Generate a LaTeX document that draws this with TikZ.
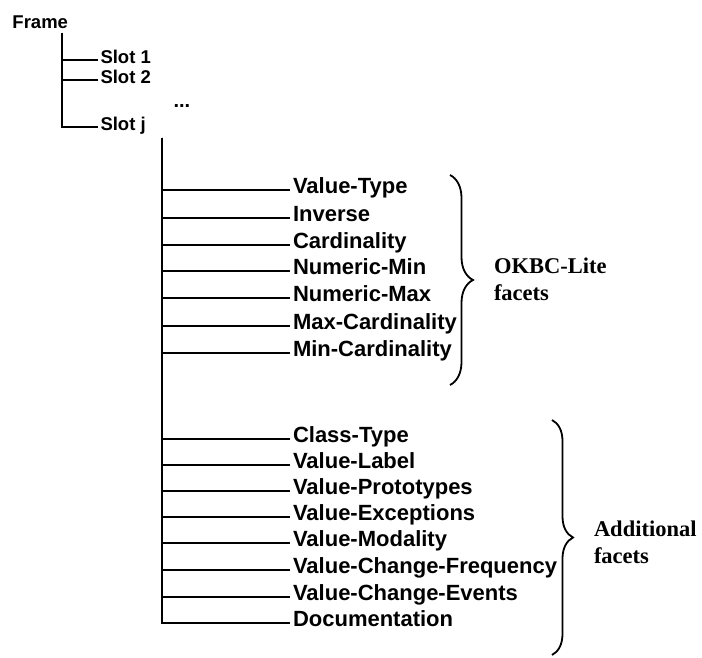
\documentclass[tikz,border=0pt]{standalone}
\usepackage{fontspec}
\setsansfont{Liberation Sans}
\setmainfont{Liberation Serif}
\usetikzlibrary{decorations.pathreplacing}
\tikzset{
  every picture/.style={line width=2pt},
  slotitem/.style={font=\sffamily\bfseries\fontsize{18.5}{21}\selectfont, anchor=west, inner sep=1.5pt, text height=0.72em, text depth=0pt},
  facet/.style={font=\sffamily\bfseries\fontsize{22}{25}\selectfont, anchor=west, inner sep=2pt, text height=0.72em, text depth=0pt},
  group/.style={font=\rmfamily\bfseries\fontsize{22.5}{27}\selectfont, anchor=west, align=left, inner sep=0pt},
  bracket/.style={decorate, decoration={brace, amplitude=#1}, line width=1.8pt},
}

\begin{document}
\begin{tikzpicture}[x=1pt, y=-1pt]
  \useasboundingbox (0,0) rectangle (702,658);
  % frame and its slots
  \node[slotitem] (frame) at (10,25) {Frame};
  \coordinate (frdown) at (62,33);
  \node[slotitem] (s1) at (98,60) {Slot 1};
  \node[slotitem] (s2) at (98,80) {Slot 2};
  \node[slotitem] (dots) at (171,104) {\fontsize{20}{21}\selectfont...};
  \node[slotitem] (sj) at (98,127) {Slot j};
  \draw (frdown) |- (s1.west);
  \draw (frdown) |- (s2.west);
  \draw (frdown) |- (sj.west);
  % facets of slot j
  \coordinate (sjdown) at (162,138);
  \node[facet] (vt) at (290,190) {Value-Type};
  \node[facet] (inv) at (290,218) {Inverse};
  \node[facet] (card) at (290,245) {Cardinality};
  \node[facet] (nmin) at (290,271) {Numeric-Min};
  \node[facet] (nmax) at (290,298) {Numeric-Max};
  \node[facet] (maxc) at (290,326) {Max-Cardinality};
  \node[facet] (minc) at (290,353) {Min-Cardinality};
  \node[facet] (ct) at (290,439) {Class-Type};
  \node[facet] (vl) at (290,465) {Value-Label};
  \node[facet] (vp) at (290,491) {Value-Prototypes};
  \node[facet] (ve) at (290,517) {Value-Exceptions};
  \node[facet] (vm) at (290,543) {Value-Modality};
  \node[facet] (vcf) at (290,570) {Value-Change-Frequency};
  \node[facet] (vce) at (290,597) {Value-Change-Events};
  \node[facet] (doc) at (290,623) {Documentation};
  \draw (sjdown) |- (vt.west);
  \draw (sjdown) |- (inv.west);
  \draw (sjdown) |- (card.west);
  \draw (sjdown) |- (nmin.west);
  \draw (sjdown) |- (nmax.west);
  \draw (sjdown) |- (maxc.west);
  \draw (sjdown) |- (minc.west);
  \draw (sjdown) |- (ct.west);
  \draw (sjdown) |- (vl.west);
  \draw (sjdown) |- (vp.west);
  \draw (sjdown) |- (ve.west);
  \draw (sjdown) |- (vm.west);
  \draw (sjdown) |- (vcf.west);
  \draw (sjdown) |- (vce.west);
  \draw (sjdown) |- (doc.west);
  % braces and group names
  \coordinate (okt) at (450,175);
  \coordinate (okb) at (450,385);
  \draw[bracket=23pt] (okt) -- (okb);
  \node[group] (okbc) at (493,279) {OKBC-Lite\\facets};
  \coordinate (adt) at (552,420);
  \coordinate (adb) at (552,655);
  \draw[bracket=21pt] (adt) -- (adb);
  \node[group] (addl) at (593,542) {Additional\\facets};
\end{tikzpicture}
\end{document}
